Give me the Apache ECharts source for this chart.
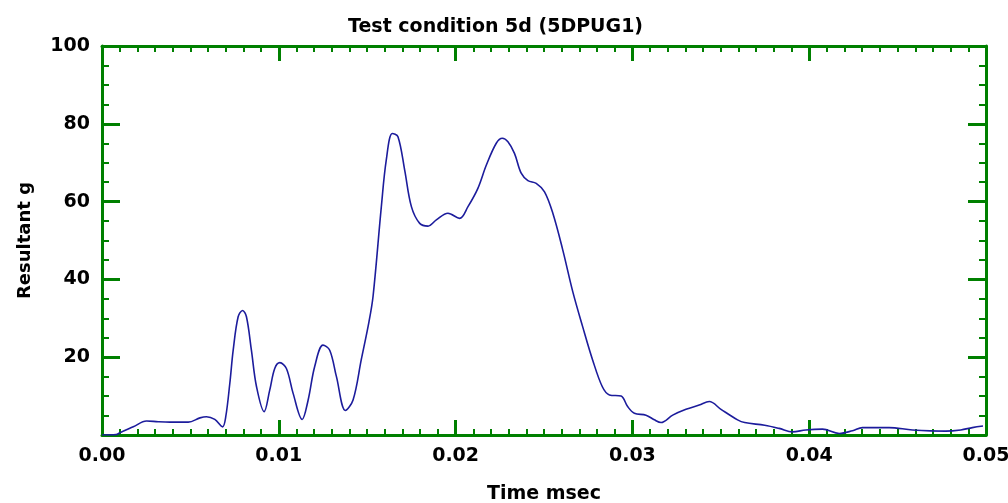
<!DOCTYPE html>
<html>
<head>
<meta charset="utf-8">
<script src="https://cdn.jsdelivr.net/npm/echarts@6/dist/echarts.min.js"></script>
<style>
  html, body { margin: 0; padding: 0; background: #fff; }
  #chart { width: 1008px; height: 503px; }
</style>
</head>
<body>
<div id="chart"></div>
<script>
// time (msec) and resultant (g)
var times = [
  0, 0.0008, 0.00102, 0.00177, 0.00252, 0.00318, 0.00384, 0.00488, 0.00554, 0.00591,
  0.00638, 0.00682, 0.0070, 0.00723, 0.00742, 0.0077, 0.00795, 0.00817, 0.00845, 0.00874,
  0.00917, 0.00949, 0.00977, 0.01006, 0.01043, 0.01081, 0.01132, 0.01166, 0.01203, 0.0125,
  0.01288, 0.01326, 0.01377, 0.0142, 0.01467, 0.0151, 0.01533, 0.0158, 0.01608, 0.01642,
  0.01674, 0.01712, 0.0175, 0.01797, 0.01844, 0.01891, 0.01957, 0.02023, 0.0207, 0.02126,
  0.02174, 0.0223, 0.02264, 0.02296, 0.02333, 0.02371, 0.02409, 0.02456, 0.02503, 0.0255,
  0.02606, 0.02663, 0.02719, 0.02775, 0.0283, 0.0287, 0.02936, 0.02973, 0.03011, 0.03077,
  0.03124, 0.03162, 0.03228, 0.03303, 0.03378, 0.03435, 0.03501, 0.03595, 0.03635, 0.03748,
  0.0383, 0.03906, 0.03981, 0.04075, 0.0417, 0.04245, 0.04301, 0.04452, 0.04584, 0.04772,
  0.04857, 0.04923, 0.04983
];
var resultant = [
  0, 0.1, 0.6, 2.1, 3.6, 3.4, 3.3, 3.3, 4.4, 4.7,
  4.0, 2.1, 4.7, 13.3, 21.8, 30.4, 32.0, 30.4, 21.8, 12.4,
  6.0, 11.6, 17.1, 18.6, 17.1, 10.7, 4.0, 9.0, 17.6, 23.1,
  21.8, 15.0, 6.3, 9.0, 19.5, 29.1, 35.6, 58.7, 70.7, 77.5,
  76.7, 68.1, 58.7, 54.4, 53.7, 55.3, 57.0, 55.7, 58.7, 63.4,
  69.4, 75.0, 76.3, 75.4, 72.4, 67.3, 65.4, 64.7, 62.5, 57.0,
  47.6, 36.8, 27.8, 19.3, 12.4, 10.3, 10.0, 7.3, 5.6, 5.1,
  3.9, 3.2, 5.1, 6.6, 7.7, 8.6, 6.6, 3.9, 3.2, 2.5,
  1.7, 0.8, 1.3, 1.5, 0.4, 1.1, 1.9, 1.9, 1.3, 1.0,
  1.3, 1.9, 2.3
];

var green = '#008000';
var font = 'DejaVu Sans';

var points = [];
for (var i = 0; i < times.length; i++) {
  points.push([times[i], resultant[i]]);
}

function xAxisOpt(pos, labels) {
  return {
    type: 'value', position: pos, min: 0, max: 0.05, interval: 0.01,
    name: labels ? 'Time msec' : '', nameLocation: 'middle', nameGap: 50, nameMoveOverlap: false,
    nameTextStyle: { color: '#000', fontFamily: font, fontWeight: 'bold', fontSize: 19 },
    axisLine: { show: true, onZero: false, lineStyle: { color: green, width: 3 } },
    axisTick: { show: true, inside: true, length: 15, lineStyle: { color: green, width: 3 } },
    minorTick: { show: true, splitNumber: 10, length: 6, lineStyle: { color: green, width: 2 } },
    splitLine: { show: false },
    axisLabel: {
      show: labels, margin: 12, color: '#000', fontFamily: font, fontWeight: 'bold', fontSize: 19,
      formatter: function (v) { return v.toFixed(2); }
    }
  };
}

function yAxisOpt(pos, labels) {
  return {
    type: 'value', position: pos, min: 0, max: 100, interval: 20,
    name: labels ? 'Resultant g' : '', nameLocation: 'middle', nameGap: 68, nameMoveOverlap: false,
    nameTextStyle: { color: '#000', fontFamily: font, fontWeight: 'bold', fontSize: 18 },
    axisLine: { show: true, onZero: false, lineStyle: { color: green, width: 3 } },
    axisTick: { show: true, inside: true, length: 18, lineStyle: { color: green, width: 3 } },
    minorTick: { show: true, splitNumber: 4, length: 7, lineStyle: { color: green, width: 2 } },
    splitLine: { show: false },
    axisLabel: {
      show: labels, margin: 12, color: '#000', fontFamily: font, fontWeight: 'bold', fontSize: 19,
      formatter: function (v) { return v === 0 ? '' : String(v); }
    }
  };
}

var chart = echarts.init(document.getElementById('chart'), null, { renderer: 'canvas' });
chart.setOption({
  animation: false,
  backgroundColor: '#fff',
  title: {
    text: 'Test condition 5d (5DPUG1)',
    left: 343, top: 13,
    textStyle: { color: '#000', fontFamily: font, fontWeight: 'bold', fontSize: 19 }
  },
  grid: { left: 102, right: 22, top: 46, bottom: 68, containLabel: false, outerBoundsMode: 'none' },
  xAxis: [xAxisOpt('bottom', true), xAxisOpt('top', false)],
  yAxis: [yAxisOpt('left', true), yAxisOpt('right', false)],
  series: [{
    type: 'line',
    data: points,
    smooth: 0.35,
    showSymbol: false,
    lineStyle: { color: '#1c1c9c', width: 1.6 }
  }]
});
</script>
</body>
</html>
